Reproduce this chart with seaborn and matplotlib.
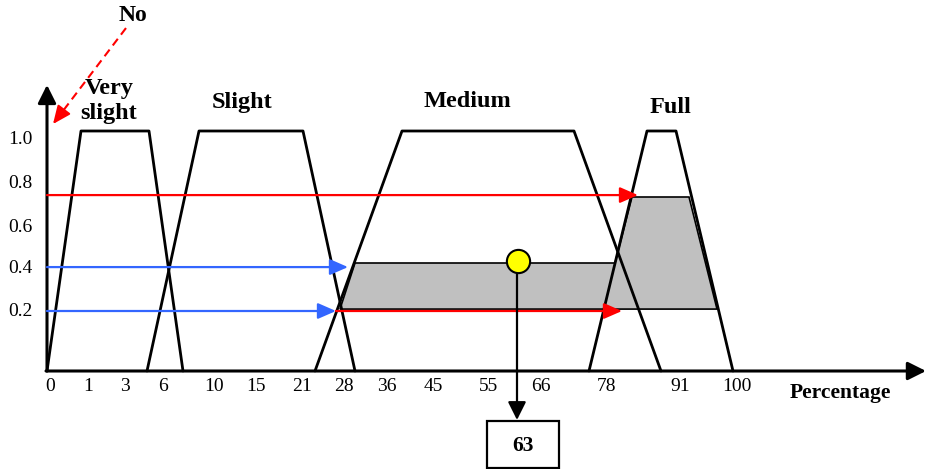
import numpy as np
import pandas as pd
import matplotlib
matplotlib.use('Agg')
import matplotlib.pyplot as plt
from matplotlib.patches import Polygon, Rectangle
import seaborn as sns

# membership functions, x in axis position units (ticks below are non-linear)
set_names = ['Very\nslight', 'Slight', 'Medium', 'Full']
set_x = [
    [47, 81, 149, 183],
    [147, 199, 303, 355],
    [315, 402, 574, 661],
    [589, 647, 676, 733],
]
set_y = [0, 1.0, 1.0, 0]
label_x = [109, 242, 467, 670]
label_y = [1.125, 1.117, 1.121, 1.096]

# axis ticks
x_tick_labels = ['0', '1', '3', '6', '10', '15', '21', '28', '36', '45', '55', '66', '78', '91', '100']
x_tick_pos = [50, 88, 125, 163, 214, 256, 302, 344, 387, 433, 489, 541, 606, 680, 737]
y_tick_labels = ['1.0', '0.8', '0.6', '0.4', '0.2']
y_tick_pos = [0.9625, 0.783, 0.6, 0.429, 0.246]

# input levels (blue = rule inputs, red = fired outputs)
blue_levels = [0.433, 0.25]
blue_ends = [348, 336]
red_levels = [0.733, 0.25]
red_starts = [47, 336]
red_ends = [638, 622]

# aggregated output region
shade_x = [340, 355, 615, 632, 689, 717]
shade_y = [0.258, 0.45, 0.45, 0.725, 0.725, 0.258]

centroid_x = 517
centroid_y = 0.458
result_label = '63'

sns.set_theme(style='white')
plt.rcParams['font.family'] = ['Liberation Serif', 'DejaVu Serif']
plt.rcParams['text.color'] = 'black'

fig = plt.figure(figsize=(9.26, 4.69), dpi=100)
ax = fig.add_axes([0, 0, 1, 1])

# shaded output
ax.add_patch(Polygon(list(zip(shade_x, shade_y)), closed=True, facecolor='#c0c0c0',
                     edgecolor='black', lw=1.2, zorder=1))

# trapezoids
for xs in set_x:
    df = pd.DataFrame({'x': xs, 'y': set_y})
    sns.lineplot(data=df, x='x', y='y', color='black', lw=2.0, sort=False,
                 estimator=None, ax=ax, zorder=2)
ax.set_xlabel('')
ax.set_ylabel('')
ax.set_xlim(0, 926)
ax.set_ylim((371 - 469) / 240, 371 / 240)
ax.axis('off')

for name, lx, ly in zip(set_names, label_x, label_y):
    ax.text(lx, ly, name, ha='center', va='center', fontsize=17.5, fontweight='bold',
            linespacing=1.2, zorder=5)

head = '-|>,head_length=1.1,head_width=0.48'

# axes arrows
ax.annotate('', xy=(47, 1.192), xytext=(47, 0),
            arrowprops=dict(arrowstyle='-|>,head_length=1.1,head_width=0.55', color='black',
                            lw=2.2, mutation_scale=10, shrinkA=0, shrinkB=0), zorder=3)
ax.annotate('', xy=(926, 0), xytext=(46, 0),
            arrowprops=dict(arrowstyle='-|>,head_length=1.1,head_width=0.55', color='black',
                            lw=2.2, mutation_scale=10, shrinkA=0, shrinkB=0), zorder=3)

# input / output arrows
for lvl, xe in zip(blue_levels, blue_ends):
    ax.annotate('', xy=(xe, lvl), xytext=(47, lvl),
                arrowprops=dict(arrowstyle=head, color='#3366ff', lw=1.6,
                                mutation_scale=10, shrinkA=0, shrinkB=0), zorder=3)
for lvl, xs, xe in zip(red_levels, red_starts, red_ends):
    ax.annotate('', xy=(xe, lvl), xytext=(xs, lvl),
                arrowprops=dict(arrowstyle=head, color='#ff0000', lw=1.6,
                                mutation_scale=10, shrinkA=0, shrinkB=0), zorder=3)

# "No" dashed pointer
no_start = (126, 1.429)
no_tip = (53, 1.029)
mid = (no_start[0] + 0.82 * (no_tip[0] - no_start[0]), no_start[1] + 0.82 * (no_tip[1] - no_start[1]))
ax.plot([no_start[0], mid[0]], [no_start[1], mid[1]], color='#ff0000', lw=1.5,
        dashes=(4, 2.5), zorder=3)
ax.annotate('', xy=no_tip, xytext=mid,
            arrowprops=dict(arrowstyle=head, color='#ff0000', lw=1.5,
                            mutation_scale=10, shrinkA=0, shrinkB=0), zorder=3)
ax.text(133, 1.483, 'No', ha='center', va='center', fontsize=17, fontweight='bold')

# centroid and result
ax.annotate('', xy=(centroid_x, -0.204), xytext=(centroid_x, centroid_y),
            arrowprops=dict(arrowstyle='-|>,head_length=1.1,head_width=0.55', color='black',
                            lw=1.6, mutation_scale=10, shrinkA=0, shrinkB=0), zorder=3)
ax.scatter([centroid_x + 1], [centroid_y], s=280, color='#ffff00', edgecolor='black',
           linewidth=1.5, zorder=4)
ax.add_patch(Rectangle((487, -0.404), 72, 0.196, facecolor='white', edgecolor='black',
                       lw=1.6, zorder=3, clip_on=False))
ax.text(523, -0.3125, result_label, ha='center', va='center', fontsize=15.5, fontweight='bold',
        zorder=5)

# tick labels
for lab, xp in zip(x_tick_labels, x_tick_pos):
    ax.text(xp, -0.0625, lab, ha='center', va='center', fontsize=14)
for lab, yp in zip(y_tick_labels, y_tick_pos):
    ax.text(20, yp, lab, ha='center', va='center', fontsize=14)
ax.text(840, -0.092, 'Percentage', ha='center', va='center', fontsize=15.5, fontweight='bold')

fig.savefig('out.png', dpi=100)
